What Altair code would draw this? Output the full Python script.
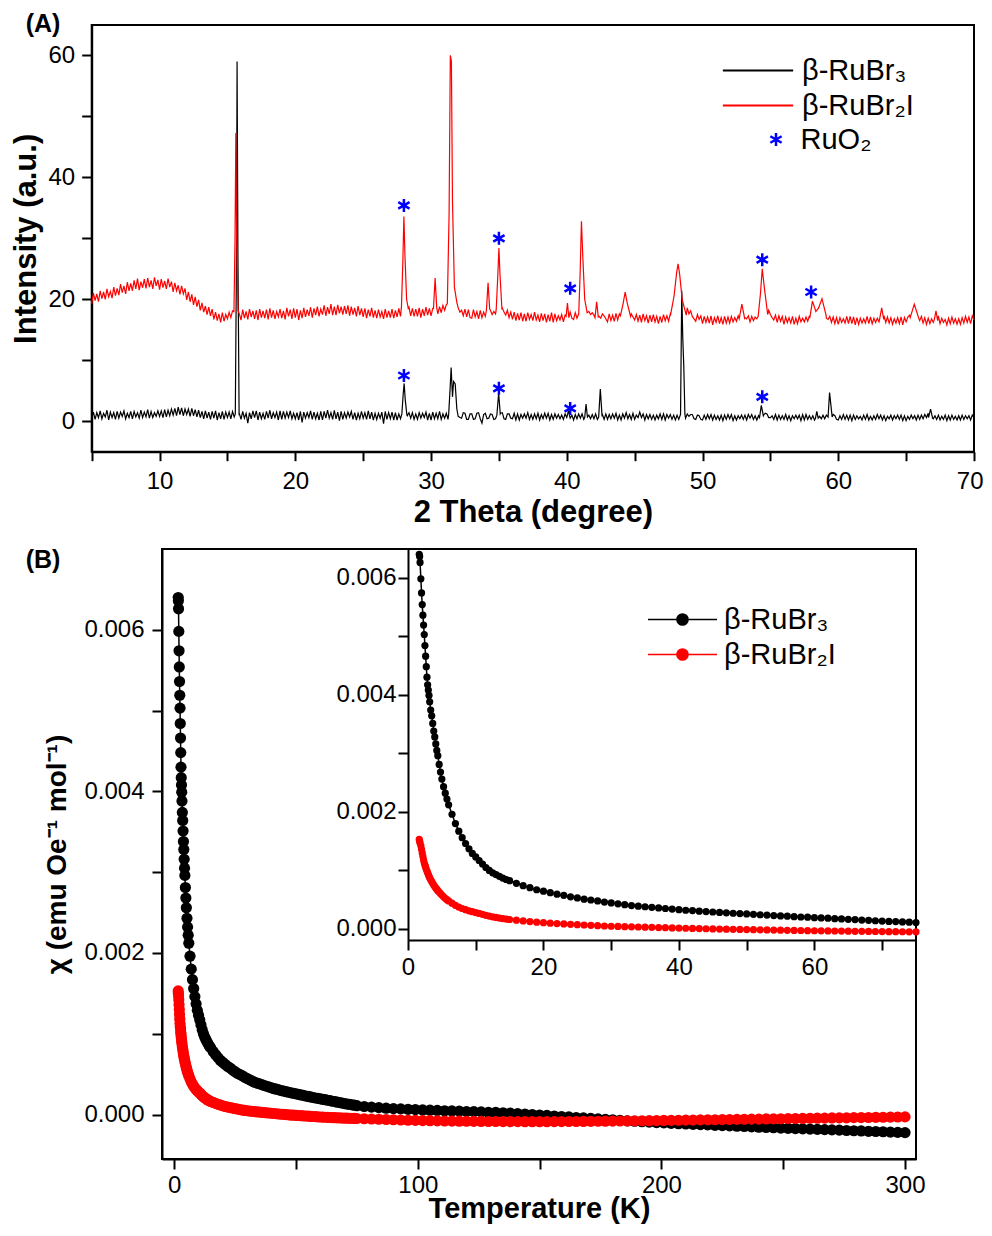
import altair as alt
import pandas as pd

FONT = "Liberation Sans"

# ===================== (A) powder XRD =====================
TT_START = 5.0    # first 2-theta of the baseline arrays (deg)
TT_STEP = 0.125   # spacing of the baseline arrays (deg)

# beta-RuBr2I baseline (incl. noise), 8 readings per degree, 5 -> 70 deg
red_base = [
    19.3, 21.0, 19.8, 20.9, 19.6, 21.4, 20.1, 21.2,
    20.0, 21.7, 20.4, 21.3, 20.2, 22.0, 20.6, 21.8,
    20.7, 22.5, 21.1, 22.2, 20.9, 22.8, 21.4, 22.6,
    21.4, 23.1, 21.7, 23.4, 21.5, 22.9, 21.9, 23.3,
    21.8, 23.5, 22.0, 23.1, 21.7, 23.6, 22.2, 23.2,
    21.6, 23.3, 21.9, 23.0, 21.7, 23.4, 22.0, 22.9,
    21.2, 22.7, 21.4, 22.3, 20.8, 22.2, 20.9, 21.8,
    19.9, 21.2, 19.6, 20.8, 19.1, 20.4, 18.8, 19.9,
    18.2, 19.4, 17.9, 18.9, 17.5, 18.7, 17.3, 18.4,
    16.7, 17.9, 16.5, 17.6, 16.2, 17.8, 16.4, 17.5,
    16.8, 17.9, 17.0, 18.1, 17.2, 17.7, 17.3, 17.6,
    16.6, 18.3, 16.9, 18.0, 16.7, 18.4, 17.1, 18.1,
    16.8, 18.2, 16.6, 18.4, 17.0, 18.1, 16.9, 18.3,
    16.7, 18.5, 17.0, 18.2, 16.8, 18.0, 17.1, 18.4,
    16.9, 18.1, 16.7, 18.6, 17.2, 18.3, 16.8, 18.5,
    17.0, 18.4, 16.6, 18.2, 16.9, 18.6, 17.1, 18.3,
    17.3, 18.7, 17.0, 18.5, 17.4, 18.8, 17.2, 18.4,
    17.5, 19.0, 17.3, 18.7, 17.6, 19.2, 17.4, 18.8,
    17.4, 19.1, 17.7, 18.8, 17.5, 18.9, 17.6, 19.0,
    17.3, 18.8, 17.5, 18.6, 17.2, 18.9, 17.4, 18.5,
    17.1, 18.5, 16.9, 18.3, 17.2, 18.6, 17.0, 18.2,
    16.9, 18.3, 17.1, 18.0, 16.8, 18.4, 17.0, 18.1,
    17.0, 18.4, 16.9, 18.2, 17.1, 18.5, 17.2, 18.3,
    17.9, 18.4, 17.6, 18.7, 17.3, 18.5, 17.2, 18.4,
    17.2, 18.6, 17.0, 18.4, 17.3, 18.7, 17.4, 18.5,
    17.3, 18.5, 17.1, 18.3, 17.6, 18.8, 17.8, 19.0,
    18.2, 19.1, 18.6, 19.5, 19.8, 19.4, 19.0, 18.9,
    18.6, 17.9, 18.2, 17.3, 18.4, 17.1, 18.3, 17.0,
    16.9, 18.3, 17.1, 18.0, 16.8, 18.2, 17.0, 17.9,
    17.2, 18.1, 17.3, 18.2, 17.5, 18.0, 17.6, 17.9,
    18.0, 18.4, 18.6, 17.9, 17.4, 18.2, 17.0, 17.9,
    16.7, 17.9, 16.5, 17.7, 16.6, 17.8, 16.4, 17.6,
    16.4, 17.8, 16.7, 17.5, 16.5, 17.9, 16.6, 17.4,
    16.3, 17.7, 16.5, 17.6, 16.2, 17.5, 16.4, 17.8,
    16.2, 17.6, 16.5, 17.3, 16.6, 17.5, 16.3, 17.4,
    16.8, 17.3, 17.9, 16.9, 16.7, 17.8, 16.9, 17.6,
    18.0, 19.2, 19.0, 18.7, 18.3, 18.0, 17.5, 17.8,
    17.4, 18.0, 17.8, 17.2, 16.9, 17.6, 17.3, 16.8,
    16.3, 17.6, 16.5, 17.4, 16.4, 17.7, 16.6, 17.6,
    17.0, 17.9, 18.5, 19.2, 19.0, 18.3, 17.6, 17.1,
    16.6, 17.5, 16.4, 17.4, 16.2, 17.6, 16.5, 17.3,
    16.1, 17.4, 16.3, 17.5, 16.3, 17.2, 16.0, 17.2,
    16.2, 17.5, 16.5, 17.3, 16.4, 17.6, 16.6, 17.3,
    17.8, 18.9, 19.5, 20.4, 20.5, 19.8, 19.5, 18.6,
    17.6, 18.1, 17.2, 16.8, 16.4, 17.5, 16.7, 17.3,
    16.0, 17.2, 16.2, 17.1, 16.1, 17.3, 15.8, 17.0,
    16.2, 17.3, 16.0, 17.0, 15.9, 17.2, 16.1, 17.1,
    16.1, 17.2, 16.3, 17.0, 16.4, 17.3, 16.6, 17.4,
    17.5, 17.0, 16.8, 17.3, 16.3, 17.2, 16.5, 17.1,
    16.8, 17.6, 18.5, 19.6, 20.0, 19.8, 19.5, 18.2,
    17.5, 17.0, 16.6, 17.4, 16.2, 17.3, 16.4, 17.2,
    15.9, 17.1, 16.2, 17.0, 16.1, 17.2, 15.9, 16.9,
    16.0, 17.2, 16.3, 16.9, 16.3, 17.1, 16.4, 17.3,
    17.5, 18.0, 18.0, 18.3, 18.2, 18.0, 17.6, 17.8,
    17.2, 16.9, 16.7, 17.2, 16.2, 17.1, 16.0, 17.0,
    15.9, 17.0, 16.2, 16.8, 16.1, 17.2, 16.0, 17.2,
    16.0, 17.1, 15.8, 17.0, 15.9, 16.9, 16.1, 16.8,
    16.1, 17.2, 16.0, 17.1, 16.0, 16.9, 16.2, 16.9,
    16.3, 17.2, 16.8, 17.3, 16.2, 17.1, 16.1, 17.0,
    15.9, 16.8, 16.1, 17.0, 16.0, 17.1, 15.8, 17.0,
    16.3, 17.1, 17.4, 17.8, 18.0, 18.2, 17.5, 17.0,
    16.5, 17.2, 16.1, 17.0, 15.9, 16.9, 16.0, 16.8,
    16.2, 17.4, 16.5, 17.3, 16.0, 16.9, 16.2, 16.7,
    15.8, 16.9, 16.0, 17.1, 16.1, 16.8, 15.9, 16.8,
    15.9, 17.0, 16.1, 17.2, 16.2, 17.1, 16.0, 17.3,
    16.6,
]

# beta-RuBr3 baseline (incl. noise), 8 readings per degree, 5 -> 70 deg
black_base = [
    0.5, 1.5, 0.3, 1.4, 0.6, 1.7, 0.4, 1.3,
    0.7, 1.8, 0.2, 1.5, 0.6, 1.4, 0.3, 1.6,
    0.5, 1.5, 0.8, 1.7, 0.4, 1.3, 0.6, 1.6,
    0.4, 1.6, 0.7, 1.4, 0.5, 1.8, 0.6, 1.5,
    0.7, 1.9, 0.5, 1.6, 0.6, 1.4, 0.8, 1.7,
    0.8, 1.7, 0.6, 1.9, 0.7, 1.8, 0.9, 2.0,
    1.0, 2.1, 0.9, 2.3, 1.1, 2.2, 0.9, 2.0,
    1.1, 2.0, 0.8, 2.1, 0.9, 1.9, 0.7, 1.8,
    0.6, 1.6, 0.4, 1.7, 0.5, 1.5, 0.3, 1.6,
    0.5, 1.7, 0.2, 1.4, 0.4, 1.6, 0.3, 1.5,
    0.6, 1.5, 0.4, 1.6, 0.7, 1.2, 0.8, 1.3,
    0.3, 1.6, 0.5, 1.3, -0.3, 1.4, 0.4, 1.7,
    0.6, 1.7, 0.2, 1.5, 0.4, 1.3, 0.3, 1.6,
    0.5, 1.8, 0.4, 1.4, 0.6, 1.5, 0.2, 1.7,
    0.3, 1.6, 0.5, 1.5, 0.6, 1.7, 0.4, 1.3,
    0.4, 1.4, 0.2, 1.6, -0.2, 1.5, 0.5, 1.4,
    0.6, 1.7, 0.3, 1.5, 0.4, 1.3, 0.2, 1.6,
    0.2, 1.6, 0.5, 1.8, 0.5, 1.4, 0.3, 1.8,
    0.4, 1.5, 0.1, 1.6, 0.3, 1.4, 0.5, 1.5,
    0.7, 1.6, 0.3, 1.4, 0.2, 1.3, 0.4, 1.6,
    0.5, 1.4, 0.3, 1.7, 0.4, 1.5, 0.2, 1.3,
    0.3, 1.3, 0.5, 1.5, -0.4, 1.6, 0.3, 1.4,
    0.4, 1.5, 0.2, 1.4, 0.2, 1.2, 0.4, 1.5,
    1.0, 1.3, 0.9, 1.4, 0.5, 1.4, 0.3, 1.2,
    0.3, 1.4, 0.5, 1.3, 0.6, 1.5, 0.2, 1.3,
    0.2, 1.5, 0.4, 1.3, 0.4, 1.6, 0.3, 1.2,
    0.5, 1.3, 0.3, 1.4, 1.0, 1.5, 1.2, 1.5,
    1.2, 0.6, 0.5, 1.4, 1.3, 0.3, 0.3, 1.2,
    1.2, 0.3, 0.4, 1.3, 1.4, 0.4, -0.3, 1.1,
    1.3, 0.4, 0.5, 1.2, 1.1, 0.3, 0.4, 1.3,
    1.0, 1.3, 1.4, 0.4, 0.3, 1.2, 1.2, 0.5,
    0.4, 1.3, 0.2, 1.2, 0.2, 1.1, 0.5, 1.2,
    0.5, 1.4, 0.3, 1.1, 0.3, 1.2, 0.4, 1.3,
    0.2, 1.1, 0.4, 1.3, 0.5, 1.3, 0.2, 1.1,
    0.3, 1.2, 0.5, 1.1, 0.4, 1.0, 0.3, 1.2,
    0.6, 1.3, 0.7, 1.0, 0.2, 1.1, 0.4, 1.2,
    0.5, 1.2, 0.3, 1.1, 0.8, 1.0, 0.4, 1.1,
    0.4, 1.2, 0.3, 1.0, 0.9, 1.1, 0.3, 1.2,
    0.3, 1.1, 0.4, 1.2, 0.5, 1.3, 0.2, 1.0,
    0.2, 1.2, 0.5, 1.4, 0.4, 1.1, 0.3, 1.3,
    0.3, 1.0, 0.6, 1.5, 0.6, 1.2, 0.2, 1.1,
    0.4, 1.1, 0.3, 1.0, 0.2, 1.0, 0.4, 1.2,
    0.3, 1.2, 0.2, 1.1, 0.5, 1.1, 0.3, 1.0,
    0.2, 1.0, 0.3, 1.1, 0.4, 1.2, 0.5, 1.2,
    0.8, 1.1, 1.1, 0.4, 0.3, 1.0, 0.9, 0.3,
    0.2, 1.0, 0.3, 1.1, 0.4, 1.1, 0.2, 1.0,
    0.3, 0.9, 0.2, 1.0, 0.1, 1.0, 0.3, 1.1,
    0.4, 1.1, 0.1, 0.9, 0.2, 0.9, 0.4, 1.0,
    0.3, 1.0, 0.2, 1.1, 0.5, 1.1, 0.3, 0.9,
    0.2, 0.9, 0.5, 1.0, 1.0, 1.3, 1.2, 0.6,
    0.6, 0.9, 0.3, 1.1, 0.2, 1.0, 0.3, 0.9,
    0.3, 1.1, 0.2, 0.9, 0.1, 0.9, 0.4, 1.0,
    0.4, 1.0, 0.1, 1.1, 0.2, 1.1, 0.3, 0.9,
    0.3, 0.9, 0.2, 1.0, 0.6, 0.8, 0.4, 1.0,
    0.4, 1.0, 1.2, 0.9, 1.2, 1.1, 0.9, 0.3,
    0.2, 0.9, 0.3, 1.1, 0.3, 1.0, 0.2, 1.0,
    0.1, 1.0, 0.3, 0.9, 0.4, 0.8, 0.2, 1.0,
    0.3, 1.1, 0.2, 0.8, 0.2, 0.9, 0.3, 1.1,
    0.4, 1.0, 0.2, 0.9, 0.1, 0.8, 0.4, 1.0,
    0.2, 0.9, 0.4, 1.0, 0.3, 1.0, 0.1, 0.9,
    0.1, 0.8, 0.3, 1.0, 0.4, 0.9, 0.2, 1.0,
    0.3, 1.0, 0.4, 1.1, 0.6, 1.3, 1.4, 0.9,
    0.4, 0.9, 0.3, 1.0, 0.2, 0.8, 0.3, 1.0,
    0.1, 0.9, 0.2, 1.0, 0.3, 0.8, 0.2, 0.9,
    0.2, 1.0, 0.3, 0.9, 0.4, 0.9, 0.2, 1.0,
    0.6,
]

# Bragg peaks, (2theta, intensity) points
red_peaks = [
    [(15.48, 18.0), (15.56, 30.0), (15.62, 47.3), (15.68, 30.0), (15.78, 18.2)],
    [(27.82, 18.8), (27.92, 26.0), (28.0, 33.6), (28.08, 27.0), (28.2, 20.0), (28.32, 18.5)],
    [(30.18, 18.5), (30.3, 23.5), (30.42, 18.6)],
    [(31.2, 19.3), (31.33, 34.0), (31.42, 60.0), (31.5, 59.0), (31.58, 36.0), (31.72, 22.0), (31.9, 19.5)],
    [(34.08, 18.2), (34.2, 22.7), (34.32, 18.4)],
    [(34.8, 18.3), (34.92, 24.0), (35.0, 28.4), (35.08, 24.0), (35.22, 18.5)],
    [(39.95, 17.2), (40.05, 19.4), (40.15, 17.0)],
    [(40.88, 17.6), (40.98, 24.0), (41.08, 32.8), (41.18, 27.0), (41.32, 20.0), (41.5, 17.8)],
    [(42.08, 17.0), (42.2, 19.6), (42.32, 17.1)],
    [(43.95, 17.3), (44.15, 19.3), (44.3, 21.2), (44.45, 19.4), (44.7, 17.2)],
    [(47.65, 17.5), (47.9, 20.5), (48.1, 24.5), (48.2, 25.8), (48.32, 24.0), (48.5, 20.0), (48.8, 17.4)],
    [(52.7, 16.8), (52.9, 19.2), (53.1, 16.9)],
    [(54.1, 17.2), (54.27, 21.0), (54.4, 25.0), (54.55, 22.0), (54.8, 17.5)],
    [(57.9, 16.9), (58.1, 19.7), (58.35, 18.0), (58.55, 18.6), (58.8, 20.1), (59.1, 17.4)],
    [(63.05, 16.8), (63.2, 18.6), (63.35, 16.7)],
    [(65.3, 17.0), (65.6, 19.2), (65.9, 17.1)],
    [(67.08, 16.7), (67.2, 18.1), (67.32, 16.5)],
]
black_peaks = [
    [(15.58, 1.2), (15.66, 25.0), (15.71, 59.0), (15.77, 28.0), (15.86, 1.0)],
    [(27.85, 1.2), (27.95, 4.5), (28.02, 6.2), (28.1, 3.5), (28.22, 1.0)],
    [(31.3, 1.2), (31.42, 6.0), (31.48, 8.8), (31.58, 4.0), (31.66, 6.5), (31.78, 6.1), (31.9, 2.0), (32.0, 0.8)],
    [(34.85, 1.0), (34.98, 4.6), (35.1, 1.2)],
    [(40.0, 0.6), (40.12, 1.7), (40.25, 0.5)],
    [(41.32, 0.6), (41.42, 2.8), (41.52, 0.7)],
    [(42.35, 0.7), (42.47, 5.3), (42.6, 0.8)],
    [(48.38, 1.0), (48.47, 21.4), (48.54, 14.0), (48.62, 9.0), (48.7, 1.2)],
    [(54.2, 0.6), (54.33, 2.6), (54.48, 0.9)],
    [(58.32, 0.5), (58.42, 1.6), (58.52, 0.5)],
    [(59.25, 0.7), (59.36, 4.7), (59.45, 2.8), (59.55, 0.7)],
    [(66.65, 0.6), (66.8, 2.0), (66.95, 0.5)],
]

# RuO2 impurity markers
ruo2_tt = [28.0, 35.0, 40.25, 54.4, 58.0, 28.0, 35.0, 40.25, 54.4]
ruo2_int = [35.4, 30.0, 21.8, 26.5, 21.2, 7.5, 5.4, 2.1, 4.0]

# ===================== (B) susceptibility =====================
temp_K = ([1.66, 1.72, 1.78, 1.9, 2.0, 2.1, 2.2, 2.3, 2.4, 2.5, 2.6, 2.7, 2.8,
           2.9, 3.0, 3.1, 3.2, 3.35, 3.5, 3.65, 3.8, 3.95, 4.1, 4.25, 4.4, 4.6,
           4.8, 5.0, 5.25, 5.5, 5.75, 6.0,
           6.5, 7.0, 7.5, 8.0, 8.5, 9.0, 9.5, 10.0, 10.5, 11.0, 11.5, 12.0,
           12.5, 13.0, 13.5, 14.0, 14.5, 15.0]
          + list(range(16, 76)) + list(range(78, 301, 3)))

# chi in units of 1e-4 emu Oe^-1 mol^-1
chi_rubr3_e4 = [
    64.0, 63.6, 62.6, 59.8, 57.4, 55.4, 53.6, 51.9, 50.3, 48.4, 46.6, 44.8,
    43.0, 41.7, 40.8, 39.9, 38.8, 37.4, 36.4, 35.1, 33.8, 32.8, 31.6, 30.5,
    29.6, 28.1, 26.8, 25.6, 24.3, 23.2, 22.2, 21.2,
    19.6, 18.0, 16.7, 15.6, 14.6, 13.7, 12.9, 12.3, 11.7, 11.1, 10.5, 10.0,
    9.6, 9.3, 9.0, 8.7, 8.45, 8.25,
    7.8, 7.4, 7.05, 6.7, 6.45, 6.2, 5.95, 5.75, 5.5, 5.3,
    5.1, 4.95, 4.8, 4.6, 4.45, 4.3, 4.15, 4.0, 3.9, 3.8,
    3.7, 3.6, 3.5, 3.4, 3.3, 3.2, 3.14, 3.05, 2.97, 2.9,
    2.83, 2.76, 2.69, 2.63, 2.57, 2.5, 2.43, 2.38, 2.3, 2.24,
    2.18, 2.11, 2.05, 2.01, 1.94, 1.89, 1.84, 1.77, 1.72, 1.65,
    1.6, 1.53, 1.48, 1.41, 1.36, 1.3, 1.26, 1.2, 1.16, 1.1,
    1.0, 0.92, 0.86, 0.79, 0.74, 0.7, 0.65, 0.62, 0.57, 0.54,
    0.51, 0.47, 0.45, 0.42, 0.38, 0.36, 0.33, 0.29, 0.26, 0.22,
    0.18, 0.12, 0.07, 0.0, -0.06, -0.11, -0.18, -0.24, -0.29, -0.36,
    -0.42, -0.47, -0.54, -0.6, -0.65, -0.72, -0.78, -0.83, -0.89, -0.94,
    -0.99, -1.03, -1.08, -1.13, -1.16, -1.21, -1.24, -1.28, -1.33, -1.36,
    -1.4, -1.45, -1.48, -1.52, -1.57, -1.6, -1.63, -1.67, -1.7, -1.73,
    -1.77, -1.8, -1.83, -1.87, -1.9, -1.93, -1.97, -2.0, -2.03, -2.07,
    -2.1, -2.13, -2.17, -2.2, -2.23,
]
chi_rubr2i_e4 = [
    15.3, 15.0, 14.7, 14.2, 13.6, 13.0, 12.4, 11.8, 11.3, 10.9, 10.6, 10.2,
    9.9, 9.6, 9.3, 9.0, 8.75, 8.4, 8.1, 7.8, 7.5, 7.25, 7.0, 6.8,
    6.55, 6.3, 6.05, 5.8, 5.5, 5.25, 5.0, 4.8,
    4.4, 4.05, 3.75, 3.5, 3.3, 3.1, 2.95, 2.8, 2.65, 2.5, 2.34, 2.2,
    2.08, 1.97, 1.87, 1.78, 1.7, 1.62,
    1.5, 1.38, 1.27, 1.17, 1.08, 1.0, 0.93, 0.86, 0.8, 0.74,
    0.68, 0.62, 0.56, 0.51, 0.47, 0.43, 0.4, 0.37, 0.34, 0.31,
    0.28, 0.25, 0.22, 0.19, 0.16, 0.13, 0.1, 0.07, 0.04, 0.02,
    -0.01, -0.03, -0.06, -0.08, -0.1, -0.12, -0.14, -0.16, -0.18, -0.2,
    -0.22, -0.24, -0.26, -0.28, -0.3, -0.31, -0.33, -0.34, -0.36, -0.37,
    -0.39, -0.4, -0.41, -0.43, -0.44, -0.45, -0.46, -0.47, -0.48, -0.49,
    -0.52, -0.55, -0.58, -0.61, -0.64, -0.67, -0.7, -0.72, -0.74, -0.76,
    -0.78, -0.8, -0.81, -0.82, -0.83, -0.84, -0.85, -0.86, -0.86, -0.87,
    -0.87, -0.87, -0.88, -0.88, -0.88, -0.88, -0.87, -0.87, -0.86, -0.86,
    -0.85, -0.84, -0.83, -0.82, -0.81, -0.8, -0.79, -0.78, -0.77, -0.76,
    -0.74, -0.73, -0.72, -0.7, -0.69, -0.68, -0.66, -0.65, -0.64, -0.62,
    -0.61, -0.6, -0.58, -0.57, -0.56, -0.54, -0.53, -0.52, -0.5, -0.49,
    -0.48, -0.46, -0.45, -0.44, -0.42, -0.41, -0.4, -0.38, -0.37, -0.36,
    -0.34, -0.33, -0.32, -0.3, -0.29,
]
chi_ticks = [0.0, 0.001, 0.002, 0.003, 0.004, 0.005, 0.006]

SAMPLES = ["β-RuBr₃", "β-RuBr₂I"]
COLORS = ["#000000", "#ff0000"]

# ---------------- layout (pixels inside the single view) ----------------
W, H = 976, 1220
A_X_DOM, A_Y_DOM = [5, 70], [-5, 65]
B_X_DOM, B_Y_DOM = [-5, 304.5], [-0.00055, 0.007]
I_X_DOM, I_Y_DOM = [0, 75], [-0.000188, 0.00649]

sxA = alt.Scale(domain=A_X_DOM, range=[83.7, 966], nice=False, zero=False)
syA = alt.Scale(domain=A_Y_DOM, range=[443.7, 17], nice=False, zero=False)
sxB = alt.Scale(domain=B_X_DOM, range=[154, 908], nice=False, zero=False)
syB = alt.Scale(domain=B_Y_DOM, range=[1151, 541], nice=False, zero=False)
sxI = alt.Scale(domain=I_X_DOM, range=[400, 908], nice=False, zero=False)
syI = alt.Scale(domain=I_Y_DOM, range=[932, 541], nice=False, zero=False)

axA_x = alt.Axis(orient="bottom", offset=443.7 - H, values=list(range(5, 71, 5)),
                 labelExpr="datum.value % 10 == 0 ? datum.label : ''",
                 title="2 Theta (degree)", tickSize=9, labelPadding=9,
                 titlePadding=4, titleFontSize=31,
                 labelFlush=True, labelFlushOffset=9)
axA_y = alt.Axis(orient="left", offset=-83.7, values=list(range(0, 61, 10)),
                 labelExpr="datum.value % 20 == 0 ? datum.label : ''",
                 title="Intensity (a.u.)", tickSize=10, labelPadding=7,
                 titlePadding=6, titleFontSize=31)
axB_x = alt.Axis(orient="bottom", offset=1151 - H, values=list(range(0, 301, 50)),
                 labelExpr="datum.value % 100 == 0 ? datum.label : ''",
                 title="Temperature (K)", tickSize=10, labelPadding=4,
                 titlePadding=-3, titleFontSize=29)
axB_y = alt.Axis(orient="left", offset=-154, values=chi_ticks, format=".3f",
                 labelExpr="round(datum.value * 1000) % 2 == 0 ? datum.label : ''",
                 title="χ (emu Oe⁻¹ mol⁻¹)", tickSize=10, labelPadding=8,
                 titlePadding=12, titleFontSize=28)
axI_x = alt.Axis(orient="bottom", offset=932 - H, values=list(range(0, 71, 10)),
                 labelExpr="datum.value % 20 == 0 ? datum.label : ''",
                 title=None, tickSize=10, labelPadding=5)
axI_y = alt.Axis(orient="left", offset=-400, values=chi_ticks, format=".3f",
                 labelExpr="round(datum.value * 1000) % 2 == 0 ? datum.label : ''",
                 title=None, tickSize=10, labelPadding=2)

color_scale = alt.Scale(domain=SAMPLES, range=COLORS)
AST_PATH = "M0,-1L0,1M-0.87,-0.5L0.87,0.5M-0.87,0.5L0.87,-0.5"
LINE_PATH = "M-1.9,0L1.9,0"
LINE_DOT_PATH = ("M-1.865,0L1.865,0"
                 "M0.3,0A0.3,0.3,0,1,1,-0.3,0A0.3,0.3,0,1,1,0.3,0Z"
                 "M0.18,0A0.18,0.18,0,1,1,-0.18,0A0.18,0.18,0,1,1,0.18,0Z"
                 "M0.07,0A0.07,0.07,0,1,1,-0.07,0A0.07,0.07,0,1,1,0.07,0Z")

leg_A = alt.Legend(title=None, orient="none", legendX=730.5, legendY=43,
                   symbolType=LINE_PATH, symbolSize=1369, symbolStrokeWidth=1.8,
                   labelOffset=24.5, rowPadding=0, padding=0)
leg_R = alt.Legend(title=None, orient="none", legendX=753.5, legendY=117,
                   symbolSize=169, symbolStrokeWidth=2.5, symbolStrokeColor="#0000ff",
                   labelOffset=10, padding=0)
leg_B = alt.Legend(title=None, orient="none", legendX=655, legendY=592,
                   symbolType=LINE_DOT_PATH, symbolSize=1369, symbolStrokeWidth=1.6,
                   labelOffset=22, rowPadding=0, padding=0)


def trace(base, peaks):
    spans = [(p[0][0], p[-1][0]) for p in peaks]
    pts = []
    for i, v in enumerate(base):
        x = TT_START + TT_STEP * i
        if not any(a <= x <= b for a, b in spans):
            pts.append((x, v))
    for p in peaks:
        pts.extend(p)
    return sorted(pts)


blk = trace(black_base, black_peaks)
red = trace(red_base, red_peaks)
dfA_black = pd.DataFrame({"tt": [p[0] for p in blk], "I": [p[1] for p in blk], "sample": SAMPLES[0]})
dfA_red = pd.DataFrame({"tt": [p[0] for p in red], "I": [p[1] for p in red], "sample": SAMPLES[1]})
dfA_ast = pd.DataFrame({"tt": ruo2_tt, "I": ruo2_int, "phase": "RuO₂"})
dfA_frame = pd.DataFrame({"x0": [A_X_DOM[0]], "x1": [A_X_DOM[1]], "y0": [A_Y_DOM[0]], "y1": [A_Y_DOM[1]]})

dfB_black = pd.DataFrame({"T": temp_K, "chi": [v * 1e-4 for v in chi_rubr3_e4], "sample": SAMPLES[0]})
dfB_red = pd.DataFrame({"T": temp_K, "chi": [v * 1e-4 for v in chi_rubr2i_e4], "sample": SAMPLES[1]})
dfI_black = dfB_black[dfB_black["T"] <= I_X_DOM[1] + 0.3]
dfI_red = dfB_red[dfB_red["T"] <= I_X_DOM[1] + 0.3]
dfB_frame = pd.DataFrame({"x0": [B_X_DOM[0]], "x1": [B_X_DOM[1]], "y0": [B_Y_DOM[0]], "y1": [B_Y_DOM[1]]})

# ---------------- panel A ----------------
xA = alt.X("tt:Q", scale=sxA, axis=axA_x)
yA = alt.Y("I:Q", scale=syA, axis=axA_y)
frameA = alt.Chart(dfA_frame).mark_rect(fill="white", fillOpacity=0, stroke="black", strokeWidth=2).encode(
    x=alt.X("x0:Q", scale=sxA, axis=axA_x), x2="x1:Q",
    y=alt.Y("y0:Q", scale=syA, axis=axA_y), y2="y1:Q")
lineA_b = alt.Chart(dfA_black).mark_line(strokeWidth=1.2).encode(
    x=xA, y=yA, color=alt.Color("sample:N", scale=color_scale, legend=leg_A))
lineA_r = alt.Chart(dfA_red).mark_line(strokeWidth=1.2).encode(
    x=xA, y=yA, color=alt.Color("sample:N", scale=color_scale, legend=leg_A))
astA = alt.Chart(dfA_ast).mark_point(filled=False, size=169, strokeWidth=2.5, color="#0000ff", opacity=1).encode(
    x=xA, y=yA,
    shape=alt.Shape("phase:N", scale=alt.Scale(domain=["RuO₂"], range=[AST_PATH]), legend=leg_R))
labA = alt.Chart(pd.DataFrame({"lab": ["(A)"]})).mark_text(
    font=FONT, fontSize=25, fontWeight="bold", align="center", baseline="middle", color="black").encode(
    text="lab:N", x=alt.value(35), y=alt.value(16))
panelA = alt.layer(frameA, lineA_b, lineA_r, astA, labA)

# ---------------- panel B (main) ----------------
xB = alt.X("T:Q", scale=sxB, axis=axB_x)
yB = alt.Y("chi:Q", scale=syB, axis=axB_y)
cB = alt.Color("sample:N", scale=color_scale, legend=leg_B)
frameB = alt.Chart(dfB_frame).mark_rect(fill="white", fillOpacity=0, stroke="black", strokeWidth=2).encode(
    x=alt.X("x0:Q", scale=sxB, axis=axB_x), x2="x1:Q",
    y=alt.Y("y0:Q", scale=syB, axis=axB_y), y2="y1:Q")
lineB_b = alt.Chart(dfB_black).mark_line(strokeWidth=1.5).encode(x=xB, y=yB, color=cB)
ptsB_b = alt.Chart(dfB_black).mark_circle(size=125, opacity=1).encode(x=xB, y=yB, color=cB)
lineB_r = alt.Chart(dfB_red).mark_line(strokeWidth=1.5).encode(x=xB, y=yB, color=cB)
ptsB_r = alt.Chart(dfB_red).mark_circle(size=125, opacity=1).encode(x=xB, y=yB, color=cB)
labB = alt.Chart(pd.DataFrame({"lab": ["(B)"]})).mark_text(
    font=FONT, fontSize=25, fontWeight="bold", align="center", baseline="middle", color="black").encode(
    text="lab:N", x=alt.value(35), y=alt.value(552))
mainB = alt.layer(frameB, lineB_b, ptsB_b, lineB_r, ptsB_r, labB)

# ---------------- panel B (inset) ----------------
xI = alt.X("T:Q", scale=sxI, axis=axI_x)
yI = alt.Y("chi:Q", scale=syI, axis=axI_y)
lineI_b = alt.Chart(dfI_black).mark_line(strokeWidth=1.5).encode(x=xI, y=yI, color=cB)
ptsI_b = alt.Chart(dfI_black).mark_circle(size=52, opacity=1).encode(x=xI, y=yI, color=cB)
lineI_r = alt.Chart(dfI_red).mark_line(strokeWidth=1.5).encode(x=xI, y=yI, color=cB)
ptsI_r = alt.Chart(dfI_red).mark_circle(size=52, opacity=1).encode(x=xI, y=yI, color=cB)
insetB = alt.layer(lineI_b, ptsI_b, lineI_r, ptsI_r)

panelB = alt.layer(mainB, insetB).resolve_scale(x="independent", y="independent")

chart = (
    alt.layer(panelA, panelB)
    .resolve_scale(x="independent", y="independent", color="independent", shape="independent")
    .properties(width=W, height=H, padding=0, autosize=alt.AutoSizeParams(type="none"),
                background="white")
    .configure_view(strokeWidth=0)
    .configure_axis(domainColor="black", domainWidth=2, tickColor="black", tickWidth=2,
                    labelFont=FONT, labelFontSize=24, labelColor="black",
                    titleFont=FONT, titleFontSize=30, titleFontWeight="bold", titleColor="black",
                    grid=False, labelFlush=False, labelOverlap=False)
    .configure_legend(labelFont=FONT, labelFontSize=29, labelColor="black", labelLimit=300)
)

chart.save("out.html", embed_options={"renderer": "svg", "actions": False})
